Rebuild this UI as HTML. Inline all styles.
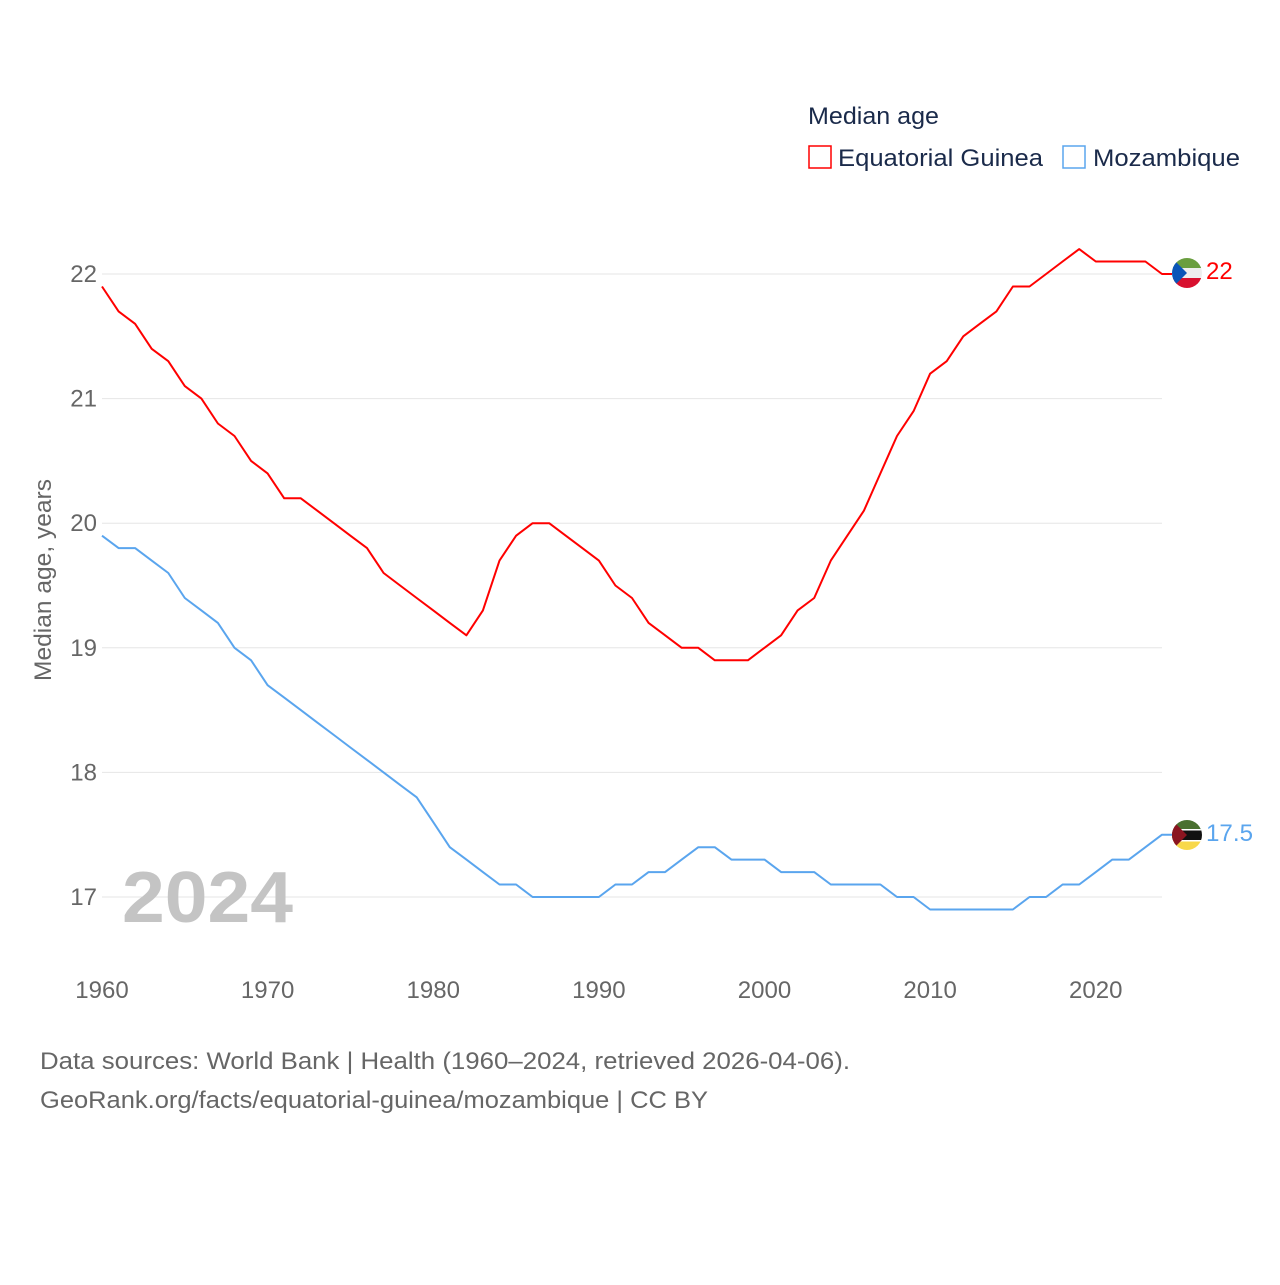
<!DOCTYPE html>
<html><head><meta charset="utf-8"><style>
html,body{margin:0;padding:0;background:#fff;}
svg text{font-family:"Liberation Sans",sans-serif;}
</style></head><body>
<svg id="chart" width="1280" height="1280" viewBox="0 0 1280 1280" xmlns="http://www.w3.org/2000/svg">
<rect width="1280" height="1280" fill="#fff"/>
<g id="grid"></g>
<g id="yticks"></g>
<g id="xticks"></g>
<text transform="translate(51,580) rotate(-90)" text-anchor="middle" font-size="24" fill="#666" textLength="202" lengthAdjust="spacingAndGlyphs">Median age, years</text>
<text x="122" y="922" font-size="72" font-weight="bold" fill="#c4c4c4" textLength="171" lengthAdjust="spacingAndGlyphs">2024</text>
<g id="series"></g>
<g>
<text x="808" y="124" font-size="24" fill="#1a2a4a" textLength="131" lengthAdjust="spacingAndGlyphs">Median age</text>
<rect x="809" y="146" width="22" height="22" fill="none" stroke="#f00" stroke-width="1.5"/>
<text x="838" y="166" font-size="24" fill="#1a2a4a" textLength="205" lengthAdjust="spacingAndGlyphs">Equatorial Guinea</text>
<rect x="1063" y="146" width="22" height="22" fill="none" stroke="#5aa5ee" stroke-width="1.5"/>
<text x="1093" y="166" font-size="24" fill="#1a2a4a" textLength="147" lengthAdjust="spacingAndGlyphs">Mozambique</text>
</g>
<g>
<clipPath id="c1"><circle cx="1187" cy="273" r="15"/></clipPath>
<g clip-path="url(#c1)">
<rect x="1172" y="258" width="30" height="10" fill="#6a9e3f"/>
<rect x="1172" y="268" width="30" height="10" fill="#eee"/>
<rect x="1172" y="278" width="30" height="10" fill="#d8102e"/>
<polygon points="1172,258 1187,273 1172,288" fill="#0a55b8"/>
</g></g>
<g>
<clipPath id="c2"><circle cx="1187" cy="835" r="15"/></clipPath>
<g clip-path="url(#c2)">
<rect x="1172" y="820" width="30" height="10" fill="#4a7030"/>
<rect x="1172" y="830" width="30" height="10" fill="#111"/>
<rect x="1172" y="840" width="30" height="10" fill="#f8d84a"/>
<rect x="1172" y="829" width="30" height="1.5" fill="#fff"/>
<rect x="1172" y="840" width="30" height="1.5" fill="#fff"/>
<polygon points="1172,820 1187,835 1172,850" fill="#8a1520"/>
</g></g>
<text x="1206" y="279" font-size="24" fill="#f00">22</text>
<text x="1206" y="841" font-size="24" fill="#5aa5ee" textLength="47" lengthAdjust="spacingAndGlyphs">17.5</text>
<text x="40" y="1069" font-size="24" fill="#666" textLength="810" lengthAdjust="spacingAndGlyphs">Data sources: World Bank | Health (1960–2024, retrieved 2026-04-06).</text>
<text x="40" y="1108" font-size="24" fill="#666" textLength="668" lengthAdjust="spacingAndGlyphs">GeoRank.org/facts/equatorial-guinea/mozambique | CC BY</text>
</svg>
<script>
const years = [];
for (let y = 1960; y <= 2024; y++) years.push(y);
const eqGuinea = [21.9,21.7,21.6,21.4,21.3,21.1,21.0,20.8,20.7,20.5,20.4,20.2,20.2,20.1,20.0,19.9,19.8,19.6,19.5,19.4,19.3,19.2,19.1,19.3,19.7,19.9,20.0,20.0,19.9,19.8,19.7,19.5,19.4,19.2,19.1,19.0,19.0,18.9,18.9,18.9,19.0,19.1,19.3,19.4,19.7,19.9,20.1,20.4,20.7,20.9,21.2,21.3,21.5,21.6,21.7,21.9,21.9,22.0,22.1,22.2,22.1,22.1,22.1,22.1,22.0];
const mozambique = [19.9,19.8,19.8,19.7,19.6,19.4,19.3,19.2,19.0,18.9,18.7,18.6,18.5,18.4,18.3,18.2,18.1,18.0,17.9,17.8,17.6,17.4,17.3,17.2,17.1,17.1,17.0,17.0,17.0,17.0,17.0,17.1,17.1,17.2,17.2,17.3,17.4,17.4,17.3,17.3,17.3,17.2,17.2,17.2,17.1,17.1,17.1,17.1,17.0,17.0,16.9,16.9,16.9,16.9,16.9,16.9,17.0,17.0,17.1,17.1,17.2,17.3,17.3,17.4,17.5];
const yTicks = [17,18,19,20,21,22];
const xTicks = [1960,1970,1980,1990,2000,2010,2020];

const NS = "http://www.w3.org/2000/svg";
const x = v => 102 + (v - 1960) * (1162 - 102) / 64;
const y = v => 897 - (v - 17) * (897 - 274) / 5;
function mk(tag, attrs, parent){const e=document.createElementNS(NS,tag);for(const k in attrs)e.setAttribute(k,attrs[k]);parent.appendChild(e);return e;}
const grid=document.getElementById('grid'), yt=document.getElementById('yticks'), xt=document.getElementById('xticks'), ser=document.getElementById('series');
yTicks.forEach(t=>{
  const l=mk('line',{x1:102,x2:1162,y1:y(t),y2:y(t),stroke:'#e6e6e6','stroke-width':1},grid);
  
  
  const tx=mk('text',{x:97,y:y(t)+8,'text-anchor':'end','font-size':24,fill:'#666'},yt);
  
  
  tx.textContent=t;
});
xTicks.forEach(t=>{
  const tx=mk('text',{x:x(t),y:998,'text-anchor':'middle','font-size':24,fill:'#666'},xt);
  
  
  tx.textContent=t;
});
function line(vals,color,name){
  let d=vals.map((v,i)=>(i?'L':'M')+x(years[i]).toFixed(1)+','+y(v).toFixed(1)).join(' ');
  d+=' L'+(x(years[years.length-1])+10)+','+y(vals[vals.length-1]).toFixed(1);
  const p=mk('path',{d:d,fill:'none',stroke:color,'stroke-width':2,'stroke-linejoin':'round'},ser);
  
  
}
line(eqGuinea,'#f00','line-equatorial-guinea');
line(mozambique,'#5aa5ee','line-mozambique');
</script>
</body></html>
